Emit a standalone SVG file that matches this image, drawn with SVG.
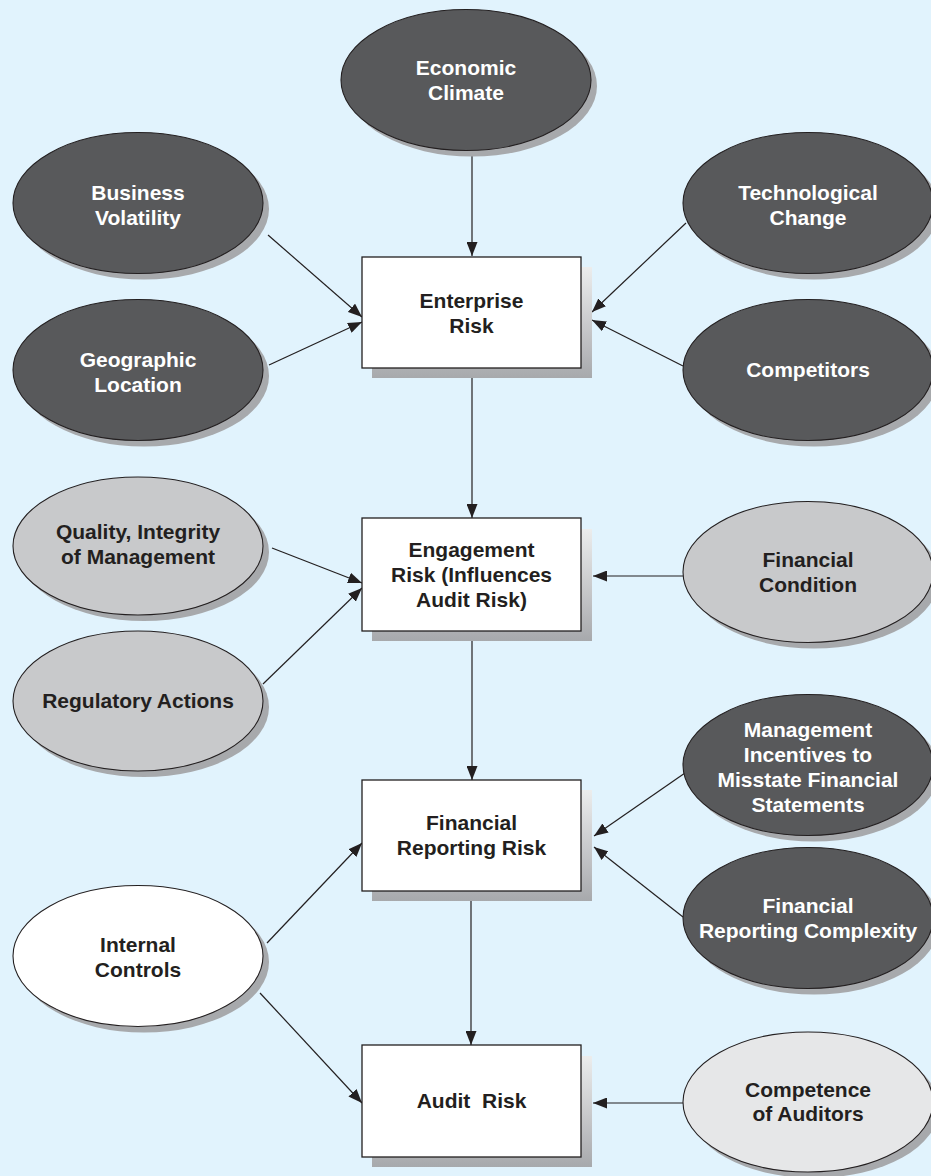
<svg xmlns="http://www.w3.org/2000/svg" width="931" height="1176" viewBox="0 0 931 1176">
  <defs>
    <marker id="arrow" markerUnits="userSpaceOnUse" markerWidth="14" markerHeight="11" refX="14" refY="5.5" orient="auto">
      <path d="M0,0 L14,5.5 L0,11 z" fill="#231f20"/>
    </marker>
    <linearGradient id="boxShade" x1="0" y1="0" x2="0" y2="1">
      <stop offset="0" stop-color="#eceded"/>
      <stop offset="0.75" stop-color="#b9babd"/>
      <stop offset="1" stop-color="#a7a9ac"/>
    </linearGradient>
  </defs>
  <style>
    .bg { fill: #e1f3fd; }
    .shadow { fill: #a7a9ac; }
    .boxshadow { fill: url(#boxShade); }
    .node { stroke: #231f20; stroke-width: 1.1; }
    .dark { fill: #58595b; }
    .mid { fill: #c8c9cb; }
    .light { fill: #e6e7e8; }
    .white { fill: #ffffff; }
    .box { fill: #ffffff; stroke: #231f20; stroke-width: 1.3; }
    .label { font-family: "Liberation Sans", Arial, Helvetica, sans-serif; font-weight: bold; font-size: 21px; text-anchor: middle; }
    .on-dark { fill: #ffffff; }
    .on-light { fill: #231f20; }
    .edge { stroke: #231f20; stroke-width: 1.2; fill: none; marker-end: url(#arrow); }
  </style>

  <rect class="bg" x="0" y="0" width="931" height="1176"/>

  <!-- connectors -->
  <g id="connectors">
    <line class="edge" x1="472" y1="151" x2="472" y2="256"/>
    <line class="edge" x1="268" y1="235" x2="362" y2="317"/>
    <line class="edge" x1="269" y1="365" x2="362" y2="322"/>
    <line class="edge" x1="686" y1="223" x2="592" y2="312"/>
    <line class="edge" x1="683" y1="366" x2="592" y2="320"/>
    <line class="edge" x1="472" y1="378" x2="472" y2="518"/>
    <line class="edge" x1="272" y1="548" x2="362" y2="583"/>
    <line class="edge" x1="263" y1="684" x2="362" y2="588"/>
    <line class="edge" x1="683" y1="576" x2="593" y2="576"/>
    <line class="edge" x1="472" y1="641" x2="472" y2="780"/>
    <line class="edge" x1="685" y1="773" x2="594" y2="836"/>
    <line class="edge" x1="683" y1="917" x2="594" y2="847"/>
    <line class="edge" x1="267" y1="943" x2="362" y2="843"/>
    <line class="edge" x1="260" y1="993" x2="362" y2="1103"/>
    <line class="edge" x1="471" y1="901" x2="471" y2="1045"/>
    <line class="edge" x1="683" y1="1103" x2="593" y2="1103"/>
  </g>

  <!-- ellipse nodes -->
  <g id="economic-climate">
    <ellipse class="shadow" cx="472" cy="86" rx="125" ry="70.5"/>
    <ellipse class="node dark" cx="466" cy="80" rx="125" ry="70.5"/>
    <text class="label on-dark" x="466" y="75"><tspan x="466">Economic</tspan><tspan x="466" dy="25">Climate</tspan></text>
  </g>

  <g id="business-volatility">
    <ellipse class="shadow" cx="144" cy="209" rx="125" ry="70.5"/>
    <ellipse class="node dark" cx="138" cy="203" rx="125" ry="70.5"/>
    <text class="label on-dark" x="138" y="200"><tspan x="138">Business</tspan><tspan x="138" dy="25">Volatility</tspan></text>
  </g>

  <g id="geographic-location">
    <ellipse class="shadow" cx="144" cy="376" rx="125" ry="70.5"/>
    <ellipse class="node dark" cx="138" cy="370" rx="125" ry="70.5"/>
    <text class="label on-dark" x="138" y="367"><tspan x="138">Geographic</tspan><tspan x="138" dy="25">Location</tspan></text>
  </g>

  <g id="technological-change">
    <ellipse class="shadow" cx="814" cy="209" rx="125" ry="70.5"/>
    <ellipse class="node dark" cx="808" cy="203" rx="125" ry="70.5"/>
    <text class="label on-dark" x="808" y="200"><tspan x="808">Technological</tspan><tspan x="808" dy="25">Change</tspan></text>
  </g>

  <g id="competitors">
    <ellipse class="shadow" cx="814" cy="376" rx="125" ry="70.5"/>
    <ellipse class="node dark" cx="808" cy="370" rx="125" ry="70.5"/>
    <text class="label on-dark" x="808" y="377">Competitors</text>
  </g>

  <g id="quality-integrity">
    <ellipse class="shadow" cx="144" cy="552" rx="125" ry="69"/>
    <ellipse class="node mid" cx="138" cy="546" rx="125" ry="69"/>
    <text class="label on-light" x="138" y="539"><tspan x="138">Quality, Integrity</tspan><tspan x="138" dy="25">of Management</tspan></text>
  </g>

  <g id="regulatory-actions">
    <ellipse class="shadow" cx="144" cy="707" rx="125" ry="70"/>
    <ellipse class="node mid" cx="138" cy="701" rx="125" ry="70"/>
    <text class="label on-light" x="138" y="708">Regulatory Actions</text>
  </g>

  <g id="financial-condition">
    <ellipse class="shadow" cx="814" cy="578" rx="125" ry="70.5"/>
    <ellipse class="node mid" cx="808" cy="572" rx="125" ry="70.5"/>
    <text class="label on-light" x="808" y="567"><tspan x="808">Financial</tspan><tspan x="808" dy="25">Condition</tspan></text>
  </g>

  <g id="management-incentives">
    <ellipse class="shadow" cx="814" cy="771" rx="125" ry="70.5"/>
    <ellipse class="node dark" cx="808" cy="765" rx="125" ry="70.5"/>
    <text class="label on-dark" x="808" y="737"><tspan x="808">Management</tspan><tspan x="808" dy="25">Incentives to</tspan><tspan x="808" dy="25">Misstate Financial</tspan><tspan x="808" dy="25">Statements</tspan></text>
  </g>

  <g id="reporting-complexity">
    <ellipse class="shadow" cx="814" cy="924" rx="125" ry="70.5"/>
    <ellipse class="node dark" cx="808" cy="918" rx="125" ry="70.5"/>
    <text class="label on-dark" x="808" y="913"><tspan x="808">Financial</tspan><tspan x="808" dy="25">Reporting Complexity</tspan></text>
  </g>

  <g id="internal-controls">
    <ellipse class="shadow" cx="144" cy="962" rx="125" ry="70.5"/>
    <ellipse class="node white" cx="138" cy="956" rx="125" ry="70.5"/>
    <text class="label on-light" x="138" y="952"><tspan x="138">Internal</tspan><tspan x="138" dy="25">Controls</tspan></text>
  </g>

  <g id="competence-auditors">
    <ellipse class="shadow" cx="814" cy="1108" rx="125" ry="70"/>
    <ellipse class="node light" cx="808" cy="1102" rx="125" ry="70"/>
    <text class="label on-light" x="808" y="1097"><tspan x="808">Competence</tspan><tspan x="808" dy="24">of Auditors</tspan></text>
  </g>

  <!-- risk boxes -->
  <g id="enterprise-risk">
    <rect class="boxshadow" x="372" y="267" width="220" height="111"/>
    <rect class="box" x="362" y="257" width="219" height="111"/>
    <text class="label on-light" x="471.5" y="308"><tspan x="471.5">Enterprise</tspan><tspan x="471.5" dy="25">Risk</tspan></text>
  </g>

  <g id="engagement-risk">
    <rect class="boxshadow" x="372" y="529" width="220" height="112"/>
    <rect class="box" x="362" y="518" width="219" height="113"/>
    <text class="label on-light" x="471.5" y="557"><tspan x="471.5">Engagement</tspan><tspan x="471.5" dy="25">Risk (Influences</tspan><tspan x="471.5" dy="25">Audit Risk)</tspan></text>
  </g>

  <g id="financial-reporting-risk">
    <rect class="boxshadow" x="372" y="790" width="220" height="111"/>
    <rect class="box" x="362" y="780" width="219" height="111"/>
    <text class="label on-light" x="471.5" y="830"><tspan x="471.5">Financial</tspan><tspan x="471.5" dy="25">Reporting Risk</tspan></text>
  </g>

  <g id="audit-risk">
    <rect class="boxshadow" x="372" y="1056" width="220" height="111"/>
    <rect class="box" x="362" y="1045" width="219" height="112"/>
    <text class="label on-light" x="471.5" y="1108" xml:space="preserve">Audit  Risk</text>
  </g>
</svg>
